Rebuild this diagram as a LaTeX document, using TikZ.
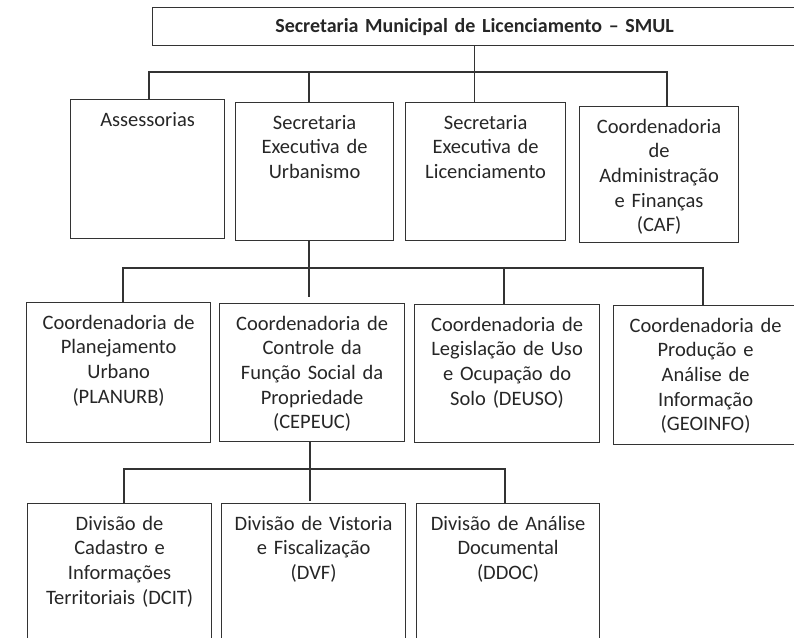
\documentclass[tikz,border=0pt]{standalone}
\usepackage{fontspec}
\setmainfont{Carlito}
\usepackage{tikz}

\begin{document}
\begin{tikzpicture}[x=1pt, y=-1pt,
	every node/.style={font=\fontsize{20.5}{24.7}\selectfont, text=black!85},
	caixa/.style={draw=black!80, line width=1.2pt, anchor=north west, align=center, inner sep=0pt, text height=26.5pt},
	linha/.style={draw=black!80, line width=1.2pt}]
				\useasboundingbox (0,0) rectangle (794,637);
				\node [caixa, text width=644pt, text height=25pt, text depth=13pt, font=\fontsize{20}{24.7}\selectfont\bfseries] (smul) at (152,7) {Secretaria Municipal de Licenciamento -- SMUL};
				\node [caixa, text width=154pt, text depth=112.5pt] (assess) at (70,99) {Assessorias};
				\node [caixa, text width=158pt, text depth=111.5pt] (seu) at (235,102) {Secretaria\\Executiva de\\Urbanismo};
				\node [caixa, text width=160pt, text depth=111.5pt] (sel) at (405,102) {Secretaria\\Executiva de\\Licenciamento};
				\node [caixa, text width=159pt, text depth=109.5pt] (caf) at (579,106) {Coordenadoria\\de\\Administração\\e Finanças\\(CAF)};
				\node [caixa, text width=184pt, text depth=113.5pt] (planurb) at (26,302) {Coordenadoria de\\Planejamento\\Urbano\\(PLANURB)};
				\node [caixa, text width=185pt, text depth=111.5pt] (cepeuc) at (219,303) {Coordenadoria de\\Controle da\\Função Social da\\Propriedade\\(CEPEUC)};
				\node [caixa, text width=185pt, text depth=111.5pt] (deuso) at (414,304) {Coordenadoria de\\Legislação de Uso\\e Ocupação do\\Solo (DEUSO)};
				\node [caixa, text width=184pt, text depth=112.5pt] (geoinfo) at (613,305) {Coordenadoria de\\Produção e\\Análise de\\Informação\\(GEOINFO)};
				\node [caixa, text width=184pt, text depth=150pt] (dcit) at (27,503) {Divisão de\\Cadastro e\\Informações\\Territoriais (DCIT)};
				\node [caixa, text width=184pt, text depth=150pt] (dvf) at (221,503) {Divisão de Vistoria\\e Fiscalização\\(DVF)};
				\node [caixa, text width=183pt, text depth=150pt] (ddoc) at (416,503) {Divisão de Análise\\Documental\\(DDOC)};
				\coordinate (b1a) at (149,72);
				\coordinate (b1b) at (309,72);
				\coordinate (b1c) at (667,72);
				\draw [linha] (smul.south) -- (smul.south |- sel.north);
				\draw [linha] (b1a |- assess.north) -- (b1a) -- (b1c) -- (b1c |- caf.north);
				\draw [linha] (b1b) -- (b1b |- seu.north);
				\coordinate (b2a) at (123,268);
				\coordinate (b2b) at (504,268);
				\coordinate (b2c) at (703,268);
				\draw [linha] (seu.south -| 309,0) -- (309,297);
				\draw [linha] (b2a |- planurb.north) -- (b2a) -- (b2c) -- (b2c |- geoinfo.north);
				\draw [linha] (b2b) -- (b2b |- deuso.north);
				\coordinate (b3a) at (124,469);
				\coordinate (b3b) at (505,469);
				\draw [linha] (cepeuc.south -| 310,0) -- (310,501);
				\draw [linha] (b3a |- dcit.north) -- (b3a) -- (b3b) -- (b3b |- ddoc.north);
			\end{tikzpicture}
\end{document}
